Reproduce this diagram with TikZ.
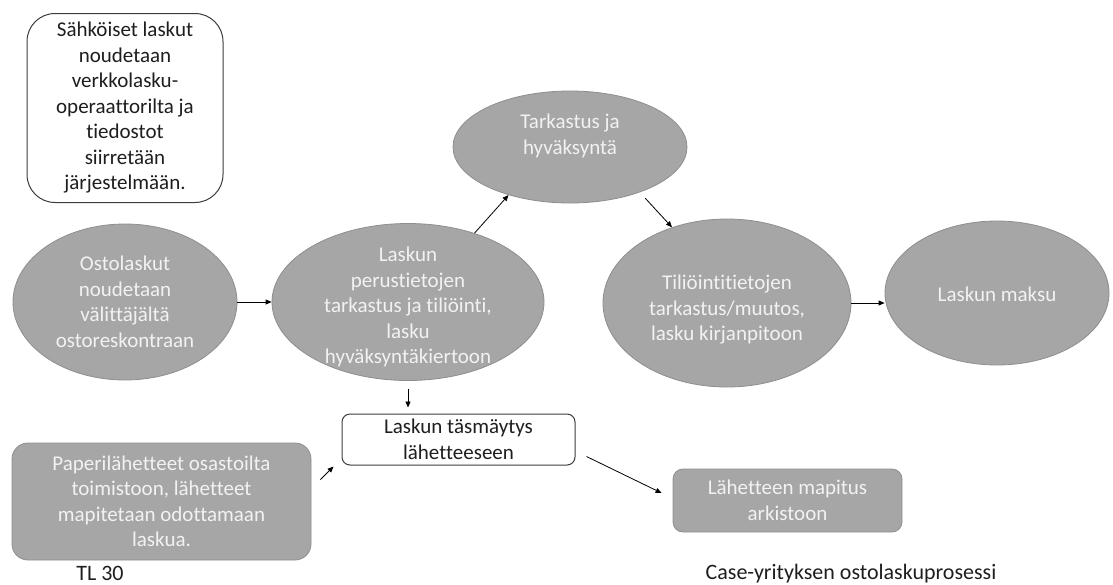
\documentclass[tikz,border=0pt]{standalone}
\usepackage{fontspec}
\setmainfont{Carlito}[Ligatures=NoCommon]
\usetikzlibrary{shapes.geometric,arrows.meta,calc}
\definecolor{procfill}{HTML}{A6A6A6}
\definecolor{procline}{HTML}{8E8E8E}
\definecolor{proctext}{HTML}{F2F2F2}
\definecolor{inktext}{HTML}{1E1E1E}
\definecolor{inkline}{HTML}{3C3C3C}
\tikzset{
  bodyfont/.style={font=\fontsize{21}{25.5}\selectfont},
  procshape/.style={ellipse, fill=procfill, draw=procline, line width=0.8pt, inner sep=0pt},
  proctxt/.style={bodyfont, text=proctext, align=center, inner sep=0pt},
  greybox/.style={rectangle, rounded corners=#1, fill=procfill, draw=procline, line width=0.8pt,
    inner sep=0pt, bodyfont, text=proctext, align=center},
  whitebox/.style={rectangle, rounded corners=#1, fill=white, draw=inkline, line width=1pt,
    inner sep=0pt, bodyfont, text=inktext, align=center},
  capt/.style={font=\fontsize{22}{26}\selectfont, text=inktext, inner sep=0pt},
  arr/.style={draw=black, line width=0.8pt, -{Triangle[length=6pt,width=5pt]}}
}
\begin{document}
\begin{tikzpicture}[x=1pt,y=-1pt]
\useasboundingbox (0,0) rectangle (1113,584);

% note box at the top left
\node[whitebox=28pt, minimum width=196pt, minimum height=189pt] (note) at (125,108)
  {Sähköiset laskut\\noudetaan\\verkkolasku-\\operaattorilta ja\\tiedostot\\siirretään\\järjestelmään.};

% process ellipses
\node[procshape, minimum width=224pt, minimum height=156pt] (osto) at (125,302) {};
\node[proctxt] (ostoT) at (osto) {Ostolaskut\\noudetaan\\välittäjältä\\ostoreskontraan};

\node[procshape, minimum width=272pt, minimum height=157pt] (lask) at (408,302) {};
\node[proctxt] (laskT) at ($(lask)+(0,5)$) {Laskun\\perustietojen\\tarkastus ja tiliöinti,\\lasku\\hyväksyntäkiertoon};

\node[procshape, minimum width=234pt, minimum height=112pt] (tark) at (570,147) {};
\node[proctxt] (tarkT) at ($(tark)+(0,-11)$) {Tarkastus ja\\hyväksyntä};

\node[procshape, minimum width=248pt, minimum height=168pt] (tili) at (727,303) {};
\node[proctxt] (tiliT) at ($(tili)+(0,7)$) {Tiliöintitietojen\\tarkastus/muutos,\\lasku kirjanpitoon};

\node[procshape, minimum width=224pt, minimum height=144pt] (maks) at (997,293) {};
\node[proctxt] (maksT) at ($(maks)+(0,1)$) {Laskun maksu};

% boxes in the lower part
\node[whitebox=8pt, minimum width=233pt, minimum height=51pt] (tasm) at (458.5,439.5)
  {Laskun täsmäytys\\lähetteeseen};
\node[greybox=16pt, minimum width=299pt, minimum height=117pt] (pape) at (161.5,501.5)
  {Paperilähetteet osastoilta\\toimistoon, lähetteet\\mapitetaan odottamaan\\laskua.};
\node[greybox=10pt, minimum width=229pt, minimum height=63pt] (lahe) at (787.5,500.5)
  {Lähetteen mapitus\\arkistoon};

% captions
\node[capt] (tl) at (100,573) {TL 30};
\node[capt] (case) at (851,574) {Case-yrityksen ostolaskuprosessi};

% flow connectors
\draw[arr] (osto.east) -- (lask.west);
\draw[arr] (lask.46) -- (tark.218);
\draw[arr, shorten <=8pt] (tark.-33) -- (tili.126);
\draw[arr] (tili.east) -- (maks.west |- tili.east);
\draw[arr, shorten <=8pt, shorten >=6pt] (lask.south) -- (lask.south |- tasm.north);
\draw[arr] ($(pape.north east)+(9,37)$) -- ($(tasm.south west)+(-8,1)$);
\draw[arr] ($(tasm.south east)+(11,-9)$) -- ($(lahe.west)+(-11,-7.5)$);
\end{tikzpicture}
\end{document}
